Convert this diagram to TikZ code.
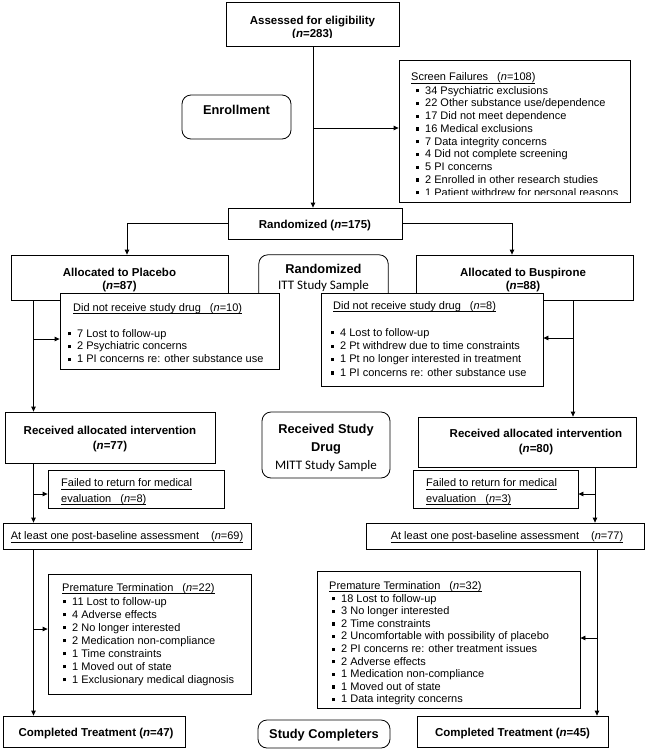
\documentclass[tikz,border=0pt]{standalone}
\usepackage{fontspec}
\setmainfont{Liberation Sans}
\newfontfamily\calfont{Carlito}
\usetikzlibrary{fit,arrows.meta}
\newcommand\sq{\rule[1.6pt]{3.2pt}{3.2pt}\hspace{5.8pt}}
\newcommand\ulx[1]{\setbox0\hbox{#1}\rlap{\rule[-2.6pt]{\wd0}{0.55pt}}\box0}
\newcommand\nn{\textit{n}}
\begin{document}
\begin{tikzpicture}[x=1pt,y=-1pt,
  bx/.style={draw, line width=0.8pt, inner sep=0pt, fill=white},
  rbx/.style={bx, rounded corners=9pt},
  reg/.style={font=\fontsize{11}{13}\selectfont, inner sep=0pt, anchor=base west},
  regc/.style={font=\fontsize{11}{13}\selectfont, inner sep=0pt, anchor=base},
  bld/.style={font=\bfseries\fontsize{11.5}{14}\selectfont, inner sep=0pt, anchor=base},
  big/.style={font=\bfseries\fontsize{12.8}{15}\selectfont, inner sep=0pt, anchor=base},
  cal/.style={font=\calfont\fontsize{13}{15}\selectfont, inner sep=0pt, anchor=base},
  arr/.style={line width=0.8pt, -{Triangle[length=5pt,width=4.5pt]}}]
\useasboundingbox (0,0) rectangle (646,750);

% ---------- top ----------
\node[bx, fit={(226,2) (399,46)}] (assess) {};
\begin{scope}
\clip (226,2) rectangle (399,37);
\node[bld] (assess1) at (312.5,24) {Assessed for eligibility};
\node[bld] (assess2) at (312.5,37.5) {(\nn=283)};
\end{scope}

\node[rbx, fit={(182,95) (291,139)}] (enroll) {};
\node[big] (enroll1) at (236.5,114.5) {Enrollment};

\node[bx, fit={(399,60) (630,202)}] (sf) {};
\begin{scope}
\clip (399,60) rectangle (630,194.5);
\node[reg] (sf0) at (411,80.5) {\ulx{Screen Failures\hspace{9pt}(\nn=108)}};
\foreach \t [count=\i] in {34 Psychiatric exclusions, 22 Other substance use/dependence, 17 Did not meet dependence, 16 Medical exclusions, 7 Data integrity concerns, 4 Did not complete screening, 5 PI concerns, 2 Enrolled in other research studies, 1 Patient withdrew for personal reasons}
  \node[reg] (sf\i) at (416,{94+12.75*(\i-1)}) {\sq\t};
\end{scope}

\node[bx, fit={(228,208) (402,239)}] (rand) {};
\node[bld] (rand1) at (315,228) {Randomized (\nn=175)};

% ---------- allocation ----------
\node[inner sep=0pt, fit={(259,255) (388,300)}] (itt) {};
\draw[line width=0.8pt, rounded corners=9pt] (itt.south west) -- (itt.north west) -- (itt.north east) -- (itt.south east);
\node[big] (itt1) at (323.5,273.5) {Randomized};
\node[cal] (itt2) at (323.5,289.5) {ITT Study Sample};

\node[bx, fit={(11,255) (228,300)}] (alloP) {};
\node[bld] (alloP1) at (119.5,276) {Allocated to Placebo};
\node[bld] (alloP2) at (119.5,289) {(\nn=87)};

\node[bx, fit={(416,255) (633,300)}] (alloB) {};
\node[bld] (alloB1) at (523,276) {Allocated to Buspirone};
\node[bld] (alloB2) at (523,289) {(\nn=88)};

\node[bx, fit={(60,293) (279,369)}] (dnrL) {};
\node[reg] (dnrL0) at (73,311) {\ulx{Did not receive study drug\hspace{9pt}(\nn=10)}};
\foreach \t [count=\i] in {7 Lost to follow-up, 2 Psychiatric concerns, 1 PI concerns re: other substance use}
  \node[reg] (dnrL\i) at (68,{337+12.8*(\i-1)}) {\sq\t};

\node[bx, fit={(321,293) (543,386)}] (dnrB) {};
\node[reg] (dnrB0) at (333,309) {\ulx{Did not receive study drug\hspace{9pt}(\nn=8)}};
\foreach \t [count=\i] in {4 Lost to follow-up, 2 Pt withdrew due to time constraints, 1 Pt no longer interested in treatment, 1 PI concerns re: other substance use}
  \node[reg] (dnrB\i) at (331,{336+13.4*(\i-1)}) {\sq\t};

% ---------- intervention ----------
\node[bx, fit={(5,412) (215,463)}] (recL) {};
\node[bld] (recL1) at (110,434) {Received allocated intervention};
\node[bld] (recL2) at (110,449) {(\nn=77)};

\node[rbx, fit={(262,412) (390,478)}] (rsd) {};
\node[big] (rsd1) at (326,433.5) {Received Study};
\node[big] (rsd2) at (326,451.5) {Drug};
\node[cal] (rsd3) at (326,469.5) {MITT Study Sample};

\node[bx, fit={(418,417) (636,467)}] (recR) {};
\node[bld] (recR1) at (536,437) {Received allocated intervention};
\node[bld] (recR2) at (536,452) {(\nn=80)};

\node[bx, fit={(48,470) (224,508)}] (failL) {};
\node[reg] (failL1) at (61,486.5) {\ulx{Failed to return for medical}};
\node[reg] (failL2) at (61,502) {\ulx{evaluation\hspace{9pt}(\nn=8)}};

\node[bx, fit={(413,470) (578,508)}] (failR) {};
\node[reg] (failR1) at (426,486.5) {\ulx{Failed to return for medical}};
\node[reg] (failR2) at (426,502) {\ulx{evaluation\hspace{9pt}(\nn=3)}};

\node[bx, fit={(3,523) (251,549)}] (alL) {};
\node[regc] (alL1) at (127,539.5) {\ulx{At least one post-baseline assessment\hspace{12pt}(\nn=69)}};

\node[bx, fit={(366,523) (644,549)}] (alR) {};
\node[regc] (alR1) at (507,539.5) {\ulx{At least one post-baseline assessment\hspace{12pt}(\nn=77)}};

% ---------- termination ----------
\node[bx, fit={(48,574) (251,694)}] (preL) {};
\node[reg] (preL0) at (62,591) {\ulx{Premature Termination\hspace{9pt}(\nn=22)}};
\foreach \t [count=\i] in {11 Lost to follow-up, 4 Adverse effects, 2 No longer interested, 2 Medication non-compliance, 1 Time constraints, 1 Moved out of state, 1 Exclusionary medical diagnosis}
  \node[reg] (preL\i) at (63,{605+13*(\i-1)}) {\sq\t};

\node[bx, fit={(317,571) (580,708)}] (preR) {};
\node[reg] (preR0) at (329,589) {\ulx{Premature Termination\hspace{9pt}(\nn=32)}};
\foreach \t [count=\i] in {18 Lost to follow-up, 3 No longer interested, 2 Time constraints, 2 Uncomfortable with possibility of placebo, 2 PI concerns re: other treatment issues, 2 Adverse effects, 1 Medication non-compliance, 1 Moved out of state, 1 Data integrity concerns}
  \node[reg] (preR\i) at (332,{602+12.6*(\i-1)}) {\sq\t};

% ---------- completion ----------
\node[bx, fit={(3,716) (185,747)}] (compL) {};
\node[bld] (compL1) at (96,736) {Completed Treatment (\nn=47)};

\node[rbx, fit={(258,720) (390,748)}] (sc) {};
\node[big] (sc1) at (324,738.5) {Study Completers};

\node[bx, fit={(417,716) (608,747)}] (compR) {};
\node[bld] (compR1) at (512.5,736) {Completed Treatment (\nn=45)};

% ---------- connectors ----------
\coordinate (cx) at (313,0);
\coordinate (e1) at (313,128);
\draw[arr] (cx |- assess.south) -- (cx |- rand.north);
\draw[arr] (e1) -- (e1 -| sf.west);

\coordinate (xL) at (127,0);
\coordinate (xR) at (512,0);
\draw[arr] (rand.west) -| (xL |- alloP.north);
\draw[arr] (rand.east) -| (xR |- alloB.north);

\coordinate (pl) at (33.5,0);
\coordinate (p1) at (33.5,339);
\coordinate (p2) at (33.5,494);
\coordinate (p3) at (33.5,629);
\draw[arr] (pl |- alloP.south) -- (pl |- recL.north);
\draw[arr] (p1) -- (p1 -| dnrL.west);
\draw[arr] (pl |- recL.south) -- (pl |- alL.north);
\draw[arr] (p2) -- (p2 -| failL.west);
\draw[arr] (pl |- alL.south) -- (pl |- compL.north);
\draw[arr] (p3) -- (p3 -| preL.west);

\coordinate (pr) at (573,0);
\coordinate (b1) at (573,338);
\draw[arr] (pr |- alloB.south) -- (pr |- recR.north);
\draw[arr] (b1) -- (b1 -| dnrB.east);
\coordinate (pr2) at (595,0);
\coordinate (b2) at (595,494);
\draw[arr] (pr2 |- recR.south) -- (pr2 |- alR.north);
\draw[arr] (b2) -- (b2 -| failR.east);
\coordinate (pr3) at (597,0);
\coordinate (b3) at (597,638);
\draw[arr] (pr3 |- alR.south) -- (pr3 |- compR.north);
\draw[arr] (b3) -- (b3 -| preR.east);
\end{tikzpicture}
\end{document}
